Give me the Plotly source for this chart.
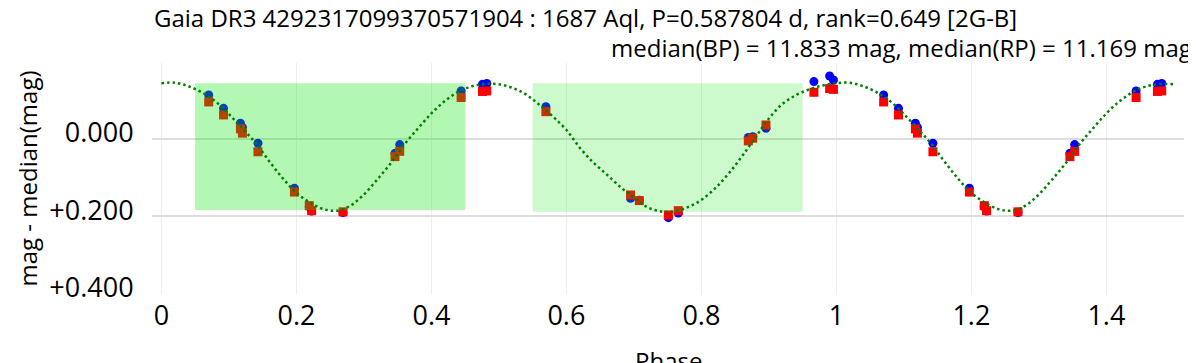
import plotly.graph_objects as go

# ---- data ----
phase = [0.070, 0.092, 0.117, 0.120, 0.143, 0.197, 0.219, 0.2225, 0.269,
         0.346, 0.353, 0.444, 0.4756, 0.482, 0.5696, 0.695, 0.708, 0.751,
         0.7657, 0.8695, 0.876, 0.8956, 0.9667, 0.990, 0.9956]
bp_mag = [-0.1135, -0.079, -0.0405, -0.030, 0.011, 0.127, 0.175, 0.186, 0.190,
          0.037, 0.0145, -0.124, -0.141, -0.143, -0.083, 0.153, 0.158, 0.203,
          0.191, -0.004, -0.006, -0.0276, -0.148, -0.1626, -0.152]
rp_mag = [-0.0955, -0.062, -0.026, -0.015, 0.033, 0.137, 0.172, 0.185, 0.188,
          0.0456, 0.032, -0.107, -0.1226, -0.124, -0.0705, 0.1445, 0.159, 0.196,
          0.185, 0.005, -0.002, -0.036, -0.1205, -0.130, -0.128]

model_phase = [0.00, 0.02, 0.04, 0.06, 0.08, 0.10, 0.12, 0.14, 0.16, 0.18,
               0.20, 0.22, 0.24, 0.26, 0.28, 0.30, 0.32, 0.34, 0.36, 0.38,
               0.40, 0.42, 0.44, 0.46, 0.48, 0.50, 0.52, 0.54, 0.56, 0.58,
               0.60, 0.62, 0.64, 0.66, 0.68, 0.70, 0.72, 0.74, 0.76, 0.78,
               0.80, 0.82, 0.84, 0.86, 0.88, 0.90, 0.92, 0.94, 0.96, 0.98]
model_mag = [-0.144, -0.145, -0.136, -0.120, -0.097, -0.064, -0.027, 0.011, 0.058, 0.102,
             0.139, 0.164, 0.181, 0.185, 0.172, 0.143, 0.104, 0.062, 0.014, -0.027,
             -0.066, -0.098, -0.122, -0.136, -0.142, -0.141, -0.132, -0.115, -0.088, -0.058,
             -0.023, 0.023, 0.061, 0.092, 0.124, 0.151, 0.176, 0.187, 0.187, 0.176,
             0.157, 0.128, 0.090, 0.045, -0.004, -0.053, -0.090, -0.113, -0.128, -0.138]

# highlighted phase windows: (phase start, phase end, mag top, mag bottom)
win1 = [0.05, 0.45, -0.144, 0.183]
win2 = [0.55, 0.95, -0.144, 0.188]

x_ticks = [0, 0.2, 0.4, 0.6, 0.8, 1.0, 1.2, 1.4]
x_ticklabels = ["0", "0.2", "0.4", "0.6", "0.8", "1", "1.2", "1.4"]
y_ticks = [0.0, 0.2, 0.4]
y_ticklabels = ["0.000", "+0.200", "+0.400"]

title1 = "Gaia DR3 4292317099370571904 : 1687 Aql, P=0.587804 d, rank=0.649 [2G-B]"
title2 = "median(BP) = 11.833 mag, median(RP) = 11.169 mag"
x_title = "Phase"
y_title = "mag - median(mag)"

MAXPH = 1.5

def fold(ph, mg):
    xs, ys = list(ph), list(mg)
    for p, m in zip(ph, mg):
        if p + 1 <= MAXPH:
            xs.append(p + 1)
            ys.append(m)
    return xs, ys

bx, by = fold(phase, bp_mag)
rx, ry = fold(phase, rp_mag)
mx = list(model_phase) + [p + 1 for p in model_phase if p + 1 <= MAXPH + 1e-9] + [1.5]
my = list(model_mag) + [m for p, m in zip(model_phase, model_mag) if p + 1 <= MAXPH + 1e-9] + [model_mag[25]]

FONT = "Open Sans"
fig = go.Figure()
fig.add_trace(go.Scatter(x=bx, y=by, mode="markers", name="BP",
                         marker=dict(color="blue", size=9, symbol="circle")))
fig.add_trace(go.Scatter(x=rx, y=ry, mode="markers", name="RP",
                         marker=dict(color="red", size=9, symbol="square")))

def rect(w, color):
    x0, x1, y0, y1 = w
    fig.add_trace(go.Scatter(x=[x0, x1, x1, x0, x0], y=[y0, y0, y1, y1, y0],
                             mode="lines", fill="toself", fillcolor=color,
                             line=dict(width=0), hoverinfo="skip"))

rect(win1, "rgba(0,228,0,0.30)")
rect(win2, "rgba(0,228,0,0.20)")

fig.add_trace(go.Scatter(x=mx, y=my, mode="lines", line_shape="spline",
                         line=dict(color="green", width=2.5, dash="2.5px,3px")))

# page body has an 8px margin, so the figure is offset by 8px
fig.update_layout(
    width=1188, height=355,
    margin=dict(l=144, r=12, t=55, b=69),
    paper_bgcolor="white", plot_bgcolor="white",
    showlegend=False,
    font=dict(family=FONT, color="black"),
    annotations=[
        dict(text=title1, xref="paper", yref="paper", x=0.0, y=1.199,
             xanchor="left", yanchor="middle", showarrow=False,
             font=dict(size=24, family=FONT)),
        dict(text=title2, xref="paper", yref="paper", x=1.0097, y=1.069,
             xanchor="right", yanchor="middle", showarrow=False,
             font=dict(size=24, family=FONT)),
        dict(text=x_title, xref="paper", yref="paper", x=0.5, y=-0.286,
             xanchor="center", yanchor="middle", showarrow=False,
             font=dict(size=24, family=FONT)),
    ],
)
fig.update_xaxes(range=[-0.014, 1.515], tickvals=x_ticks, ticktext=x_ticklabels,
                 tickfont=dict(size=27), showgrid=True, gridcolor="#eeeeee", gridwidth=1,
                 zeroline=False, showline=False, automargin=False,
                 ticks="", ticklabelstandoff=3)
fig.update_yaxes(range=[0.4, -0.196], tickvals=y_ticks, ticktext=y_ticklabels,
                 tickfont=dict(size=27), showgrid=True, gridcolor="#dddddd", gridwidth=2,
                 zeroline=False, showline=False, automargin=False,
                 ticks="outside", ticklen=12, tickcolor="rgba(0,0,0,0)",
                 ticklabelshift=6,
                 title=dict(text=y_title, font=dict(size=24), standoff=4))

fig.write_html("out.html")
